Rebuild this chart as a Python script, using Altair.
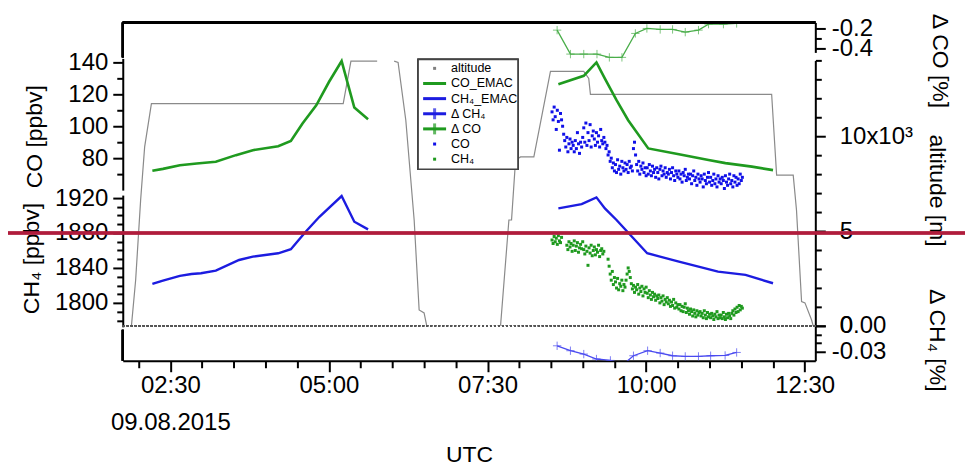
import altair as alt
import pandas as pd

FONT = "Liberation Sans"
W, H = 694, 339
XDOM = [105, 760]  # minutes after 00:00 UTC

# ---------------- data ----------------
# altitude track (gray)
alt_t = [113.2, 117.2, 121.9, 125.7, 132.1, 313.5, 320.8, 345.6,
         361.7, 365.4, 372.7, 380.6, 385.3, 390.0, 392.5,
         462.3, 470.2, 472.7, 476.5, 481.2, 493.8, 509.5, 541.0, 545.7, 547.3,
         718.7, 723.4, 739.1, 742.2, 747.0, 750.2, 756.4, 758.0]
alt_m = [0, 2420, 6630, 9440, 11720, 11720, 13960, 13960,
         13960, 13890, 10840, 5580, 840, 680, 0,
         0, 5580, 5580, 8740, 8910, 8910, 13420, 13420, 13050, 12210,
         12210, 7950, 7950, 6110, 1280, 1210, 320, 0]
alt_seg = [1] * 8 + [2] * 7 + [3] * 18

# EMAC model lines
co_emac_t = [133, 143, 159, 175, 193, 212, 228, 252, 264, 275, 288, 300, 312, 324, 337,
             517, 541, 553, 561, 572, 583, 602, 631, 659, 675, 700, 720]
co_emac_v = [72.1, 73.3, 75.6, 76.7, 77.7, 81.9, 85.0, 87.5, 90.8, 101.7, 113.1, 127.7, 140.8, 111.7, 104.4,
             126.3, 131.6, 140.0, 129.8, 116.3, 103.8, 86.1, 82.5, 78.8, 76.9, 74.7, 72.5]
co_emac_seg = [1] * 15 + [2] * 12

ch4_emac_t = [133, 143, 159, 170, 179, 193, 215, 228, 252, 264, 278, 291, 312, 324, 337,
              517, 539, 553, 561, 572, 601, 631, 668, 694, 720]
ch4_emac_v = [1821.7, 1825.5, 1830.9, 1833.1, 1833.9, 1836.9, 1849.1, 1852.9, 1856.8, 1861.4,
              1881.5, 1898.6, 1922.3, 1892.9, 1884.2,
              1908.2, 1913.1, 1920.8, 1908.2, 1894.9, 1856.8, 1847.2, 1835.8, 1832.0, 1822.5]
ch4_emac_seg = [1] * 15 + [2] * 10

# measurements (one value per minute from 08:31 UTC)
meas_start = 511
co_meas = [109, 104, 112, 106, 98, 110, 103, 85, 108, 104,
           100, 95, 91, 87, 93, 84, 89, 92, 86, 90,
           88, 84, 91, 86, 96, 89, 83, 90, 87, 93,
           99, 90, 102, 88, 96, 91, 101, 87, 94, 97,
           92, 88, 96, 90, 94, 87, 98, 91, 89, 93,
           90, 86, 88, 82, 84, 78, 80, 74, 77, 72,
           76, 71, 79, 73, 75, 70, 78, 74, 72, 77,
           73, 76, 71, 78, 74, 75, 72, 86, 90, 82,
           76, 72, 78, 70, 75, 73, 77, 71, 74, 69,
           74, 70, 76, 72, 69, 75, 71, 73, 68, 74,
           71, 67, 73, 75, 69, 72, 70, 74, 68, 71,
           70, 73, 67, 71, 74, 69, 66, 72, 70, 68,
           72, 67, 70, 65, 71, 69, 73, 66, 68, 70,
           67, 70, 64, 69, 72, 66, 68, 63, 70, 67,
           65, 69, 67, 62, 70, 66, 64, 68, 71, 65,
           68, 63, 66, 70, 64, 67, 62, 69, 65, 67,
           64, 68, 66, 61, 69, 65, 63, 67, 70, 64,
           66, 62, 69, 65, 68, 63, 67, 64, 70, 66,
           68]
ch4_meas = [1872, 1868, 1876, 1870, 1874, 1867, 1877, 1871, 1869, 1875,
            None, None, None, None, 1866, 1861, 1870, 1864, 1868, 1859,
            1866, 1871, 1860, 1865, 1869, 1858, 1863, 1867, 1862, 1870,
            1861, 1856, 1865, 1859, 1843, 1863, 1857, 1866, 1854, 1860,
            1864, 1855, 1861, 1858, 1866, 1853, 1860, 1862, 1856, 1859,
            None, None, None, 1850, 1842, 1833, 1826, 1836, 1821, 1829,
            1824, 1817, 1828, 1815, 1822, 1819, 1826, 1814, 1821, 1818,
            1826, 1833, 1840, 1836, 1829, 1822, 1816, 1820, 1812, 1818,
            1815, 1821, 1810, 1817, 1813, 1819, 1808, 1816, 1812, 1818,
            1811, 1806, 1814, 1809, 1804, 1812, 1807, 1810, 1803, 1808,
            1805, 1809, 1800, 1806, 1802, 1808, 1798, 1804, 1801, 1806,
            1799, 1803, 1796, 1801, 1797, 1804, 1794, 1800, 1795, 1798,
            1793, 1798, 1791, 1796, 1790, 1795, 1799, 1789, 1794, 1791,
            1787, 1793, 1790, 1785, 1792, 1788, 1784, 1791, 1786, 1789,
            1790, 1785, 1788, 1783, 1791, 1786, 1782, 1789, 1784, 1787,
            1783, 1788, 1785, 1781, 1787, 1784, 1790, 1782, 1786, 1783,
            1786, 1782, 1789, 1784, 1781, 1787, 1783, 1788, 1785, 1782,
            1788, 1791, 1786, 1793, 1789, 1795, 1790, 1797, 1792, 1796,
            1794]

# relative differences
dco_t = [515.8, 528.4, 541.0, 553.5, 565.2, 577.1, 589.8, 600.7, 613.3, 625.0, 637.0, 649.5, 659.0, 673.1, 685.6]
dco_v = [-0.217, -0.457, -0.457, -0.457, -0.49, -0.49, -0.25, -0.20, -0.21, -0.21, -0.237, -0.217, -0.157, -0.157, -0.15]
dch4_t = [515.8, 528.4, 541.0, 553.0, 566.2, 577.1, 588.0, 601.4, 613.3, 625.0, 637.0, 649.5, 661.0, 674.7, 685.6]
dch4_v = [-0.0231, -0.0288, -0.0327, -0.0384, -0.0400, -0.0460, -0.0346, -0.0288, -0.0315, -0.0346,
          -0.0354, -0.0354, -0.0346, -0.0343, -0.0308]

legend_labels = ["altitude", "CO_EMAC", "CH\u2084_EMAC", "\u0394 CH\u2084", "\u0394 CO", "CO", "CH\u2084"]
legend_kind = ["dot", "line", "line", "cross", "cross", "dot", "dot"]
legend_color = ["#808080", "#1f9a1f", "#1c1ce0", "#1c1ce0", "#1f9a1f", "#1010e8", "#1f9a1f"]

# ---------------- frames ----------------
alt_df = pd.DataFrame({"t": alt_t, "v": alt_m, "seg": alt_seg})
co_emac_df = pd.DataFrame({"t": co_emac_t, "v": co_emac_v, "seg": co_emac_seg})
ch4_emac_df = pd.DataFrame({"t": ch4_emac_t, "v": ch4_emac_v, "seg": ch4_emac_seg})
co_df = pd.DataFrame({"t": [meas_start + i for i in range(len(co_meas))], "v": co_meas})
ch4_df = pd.DataFrame({"t": [meas_start + i for i in range(len(ch4_meas))], "v": ch4_meas})
dco_df = pd.DataFrame({"t": dco_t, "v": dco_v})
dch4_df = pd.DataFrame({"t": dch4_t, "v": dch4_v})
leg_df = pd.DataFrame({"row": list(range(len(legend_labels))), "label": legend_labels,
                       "kind": legend_kind, "color": legend_color})

# ---------------- scales ----------------
S_CO = alt.Scale(domain=[60, 142.5], range=[168, 36], nice=False, zero=False)
S_CH4 = alt.Scale(domain=[1772.6, 1923.4], range=[305, 173], nice=False, zero=False)
S_DCO = alt.Scale(domain=[-0.44, -0.14], range=[30, 0], nice=False, zero=False)
S_ALT = alt.Scale(domain=[0, 14000], range=[304, 38], nice=False, zero=False)
S_DCH4 = alt.Scale(domain=[-0.0404, 0], range=[339, 304], nice=False, zero=False)
S_LEG = alt.Scale(domain=[0, 6], range=[46, 137], nice=False, zero=False)
S_X = alt.Scale(domain=XDOM, nice=False, zero=False)

AXC = dict(domainColor="black", domainWidth=2, tickColor="black", tickWidth=2,
           labelColor="black", labelFont=FONT, labelFontSize=24, titleFont=FONT,
           titleFontSize=23, titleColor="black", titleFontWeight="normal", grid=False)


def minor_axis(orient, values, size=6):
    return alt.Axis(orient=orient, values=values, tickSize=size, labels=False, domain=False,
                    title=None, grid=False, tickColor="black", tickWidth=2)


def X(axis=None):
    return alt.X("t:Q", scale=S_X, axis=axis)


x_major = alt.Axis(orient="bottom", values=[150, 300, 450, 600, 750], tickSize=11, labelPadding=2,
                   labelExpr="datum.value == 150 ? ['02:30', '09.08.2015'] : "
                             "pad(floor(datum.value/60), 2, '0', 'left') + ':' + pad(datum.value % 60, 2, '0', 'left')",
                   labelLineHeight=37, labelBaseline="top",
                   title="UTC", titleY=94, titleBaseline="middle", **AXC)
x_minor = minor_axis("bottom", [v for v in range(120, 760, 30) if v % 150 != 0], size=7)

# ---------------- layers ----------------
altitude = alt.Chart(alt_df).mark_line(color="#8a8a8a", strokeWidth=1.2).encode(
    x=X(x_major),
    y=alt.Y("v:Q", scale=S_ALT, axis=alt.Axis(
        orient="right", values=[0, 5000, 10000], tickSize=10, labelPadding=14,
        labelExpr="datum.value == 10000 ? '10x10\u00b3' : (datum.value == 5000 ? '5' : '0')",
        title="altitude [m]", titleX=121, titleY=168, titleAngle=90, titleAlign="center",
        titleBaseline="middle", **AXC)),
    detail="seg:N")
altitude_minor = alt.Chart(alt_df).mark_point(opacity=0).encode(
    x=X(), y=alt.Y("v:Q", scale=S_ALT,
                   axis=minor_axis("right", [v for v in range(1000, 14001, 1000) if v % 5000 != 0])))

zero_line = alt.Chart(dch4_df).mark_rule(color="#555555", strokeWidth=1.5, strokeDash=[2, 2]).encode(
    x=alt.value(0), x2=alt.value(W), y=alt.Y(datum=0, scale=S_DCH4, axis=None))

co_pts = alt.Chart(co_df).mark_square(size=9, color="#1010e8", opacity=1).encode(
    x=X(x_minor), y=alt.Y("v:Q", scale=S_CO, axis=None))
ch4_pts = alt.Chart(ch4_df).mark_square(size=9, color="#1f9a1f", opacity=1).encode(
    x=X(), y=alt.Y("v:Q", scale=S_CH4, axis=None))

co_line = alt.Chart(co_emac_df).mark_line(color="#1f9a1f", strokeWidth=2.6).encode(
    x=X(), y=alt.Y("v:Q", scale=S_CO, axis=alt.Axis(
        orient="left", values=[80, 100, 120, 140], tickSize=10, labelPadding=5, format="d",
        title="CO [ppbv]", titleX=-88, titleY=114, titleAngle=270, titleAlign="center",
        titleBaseline="middle", **AXC)),
    detail="seg:N")
co_minor = alt.Chart(co_emac_df).mark_point(opacity=0).encode(
    x=X(), y=alt.Y("v:Q", scale=S_CO, axis=minor_axis("left", [70, 90, 110, 130])))

ch4_line = alt.Chart(ch4_emac_df).mark_line(color="#1c1ce0", strokeWidth=2.4).encode(
    x=X(), y=alt.Y("v:Q", scale=S_CH4, axis=alt.Axis(
        orient="left", values=[1800, 1840, 1880, 1920], tickSize=10, labelPadding=5, format="d",
        title="CH\u2084 [ppbv]", titleX=-91, titleY=236, titleAngle=270, titleAlign="center",
        titleBaseline="middle", **AXC)),
    detail="seg:N")
ch4_minor = alt.Chart(ch4_emac_df).mark_point(opacity=0).encode(
    x=X(), y=alt.Y("v:Q", scale=S_CH4, axis=minor_axis(
        "left", [v for v in range(1780, 1921, 10) if v % 40 != 0])))

CROSS = "M-1,0H1M0,-1V1"
dco_line = alt.Chart(dco_df).mark_line(color="#4aae4a", strokeWidth=1.3, clip=True).encode(
    x=X(), y=alt.Y("v:Q", scale=S_DCO, axis=alt.Axis(
        orient="right", values=[-0.4, -0.2], tickSize=10, labelPadding=6,
        labelExpr="datum.value > -0.3 ? '-0.2' : '-0.4'",
        title="\u0394 CO [%]", titleX=124, titleY=38, titleAngle=90, titleAlign="center",
        titleBaseline="middle", **AXC)))
dco_pts = alt.Chart(dco_df).mark_point(shape=CROSS, size=70, filled=False, color="#4aae4a",
                                       strokeWidth=1, clip=True).encode(
    x=X(), y=alt.Y("v:Q", scale=S_DCO, axis=minor_axis("right", [-0.3])))

# delta CH4: line carries the "0.00" label, the crosses carry "-0.03", a hidden layer the minor ticks
dch4_line = alt.Chart(dch4_df).mark_line(color="#4a4af0", strokeWidth=1.3, clip=True).encode(
    x=X(), y=alt.Y("v:Q", scale=S_DCH4, axis=alt.Axis(
        orient="right", values=[0], tickSize=10, labelPadding=14,
        labelExpr="'0.00'",
        title="\u0394 CH\u2084 [%]", titleX=121, titleY=318, titleAngle=90, titleAlign="center",
        titleBaseline="middle", **AXC)))
dch4_pts = alt.Chart(dch4_df).mark_point(shape=CROSS, size=70, filled=False, color="#4a4af0",
                                         strokeWidth=1, clip=True).encode(
    x=X(), y=alt.Y("v:Q", scale=S_DCH4, axis=alt.Axis(
        orient="right", values=[-0.03], tickSize=10, labelPadding=6, labelExpr="'-0.03'",
        title=None, domain=False, **{k: v for k, v in AXC.items() if not k.startswith("domain")})))
dch4_minor = alt.Chart(dch4_df).mark_point(opacity=0).encode(
    x=X(), y=alt.Y("v:Q", scale=S_DCH4, axis=minor_axis("right", [-0.01, -0.02])))

# frame pieces
frame_top = alt.Chart(leg_df).mark_rule(color="black", strokeWidth=2.5).encode(
    x=alt.value(0), x2=alt.value(W), y=alt.value(0))
frame_l1 = alt.Chart(leg_df).mark_rule(color="black", strokeWidth=2).encode(
    x=alt.value(0), y=alt.value(0), y2=alt.value(35))
frame_l2 = alt.Chart(leg_df).mark_rule(color="black", strokeWidth=2).encode(
    x=alt.value(0), y=alt.value(308), y2=alt.value(H))

# red reference line at CH4 = 1880 ppbv
red_line = alt.Chart(leg_df).mark_rule(color="#b01c3c", strokeWidth=2.6).encode(
    x=alt.value(-115), x2=alt.value(W + 150), y=alt.Y(datum=1880, scale=S_CH4, axis=None))

# legend
leg_box = alt.Chart(leg_df).mark_rect(fill="white", stroke="#444444", strokeWidth=1.5).encode(
    x=alt.value(296), x2=alt.value(396), y=alt.value(37), y2=alt.value(147))
leg_y = alt.Y("row:Q", scale=S_LEG, axis=None)
leg_text = alt.Chart(leg_df).mark_text(align="left", baseline="middle", font=FONT, fontSize=12.5,
                                       color="black").encode(
    x=alt.value(329), y=leg_y, text="label:N")
leg_lines = alt.Chart(leg_df).transform_filter(
    "datum.kind == 'line' || datum.kind == 'cross'").mark_rule(strokeWidth=3).encode(
    x=alt.value(301), x2=alt.value(324), y=leg_y, color=alt.Color("color:N", scale=None))
leg_cross = alt.Chart(leg_df).transform_filter("datum.kind == 'cross'").mark_tick(
    orient="vertical", size=11, thickness=3).encode(
    x=alt.value(312.5), y=leg_y, color=alt.Color("color:N", scale=None))
leg_dots = alt.Chart(leg_df).transform_filter("datum.kind == 'dot'").mark_square(
    size=9, opacity=1).encode(
    x=alt.value(312.5), y=leg_y, color=alt.Color("color:N", scale=None))

chart = alt.layer(
    altitude, altitude_minor, zero_line, co_pts, ch4_pts, co_line, co_minor, ch4_line, ch4_minor,
    dco_line, dco_pts, dch4_line, dch4_pts, dch4_minor, frame_top, frame_l1, frame_l2, red_line,
    leg_box, leg_text, leg_lines, leg_cross, leg_dots
).resolve_scale(x="independent", y="independent", color="independent").properties(
    width=W, height=H,
    autosize=alt.AutoSizeParams(type="none"),
    padding={"left": 115, "top": 14, "right": 150, "bottom": 112},
    background="white",
).configure_view(stroke=None)

chart.save("out.html", embed_options={"renderer": "svg", "actions": False})
